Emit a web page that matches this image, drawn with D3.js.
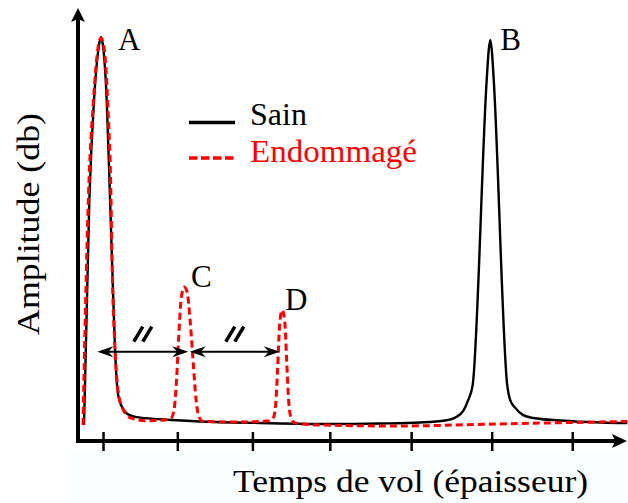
<!DOCTYPE html>
<html>
<head>
<meta charset="utf-8">
<script src="https://cdn.jsdelivr.net/npm/d3@7"></script>
<style>
  html, body { margin: 0; padding: 0; background: #fff; }
  svg { display: block; }
</style>
</head>
<body>
<svg id="chart" width="628" height="503"></svg>
<script>
// ---- data (time of flight, amplitude 0-100) ----
const sainX = [0.757,0.825,0.885,0.949,0.974,1.006,1.047,1.090,1.115,1.154,1.185,1.209,1.243,1.281,1.358,1.435,1.729,2.241,3.008,3.904,4.543,5.055,5.375,5.516,5.606,5.669,5.727,5.906,5.932,5.951,5.971,5.996,6.168,6.207,6.271,6.373,6.501,6.846,7.358,7.703];
const sainY = [3.96,59.7,84.4,98.0,100,96.8,84.4,59.7,44.8,22.5,12.6,10.1,8.4,7.25,6.3,5.9,5.37,4.83,4.46,4.2,4.33,4.58,5.07,5.94,7.43,10.1,13.9,89.4,96.8,99.3,96.8,89.4,13.9,10.1,8.2,6.4,5.69,5.07,4.58,4.46];

const endoX = [0.744,0.812,0.878,0.942,0.974,1.013,1.058,1.102,1.115,1.154,1.196,1.260,1.367,1.559,1.793,1.870,1.908,1.940,1.966,1.998,2.036,2.075,2.113,2.151,2.190,2.228,2.279,2.753,3.111,3.175,3.207,3.232,3.258,3.290,3.322,3.348,3.373,3.405,3.456,3.776,4.799,5.861,6.846,7.703];
const endoY = [3.96,59.7,84.4,98.0,99.75,97.3,84.4,59.7,44.8,22.5,11.9,7.67,5.62,5.02,5.2,5.69,7.67,15.1,25.0,34.9,38.1,36.9,29.95,20.0,10.1,5.94,4.83,4.7,4.95,5.69,8.9,17.6,28.7,32.4,29.95,20.0,10.1,5.69,4.46,3.96,3.71,4.13,4.53,4.83];

const tickValues = [1, 1.95, 2.91, 3.90, 4.94, 5.97, 7];

const peakNames = ["A", "B", "C", "D"];
const peakX = [0.974, 5.951, 2.036, 3.290];
const peakY = [100, 99.3, 38.1, 32.4];

// spacing arrows (from A to C, C to D) at amplitude level
const arrowFrom = [0.927, 2.110];
const arrowTo   = [2.090, 3.260];
const arrowLevel = 22.1;

const seriesNames = ["Sain", "Endommagé"];
const xTitle = "Temps de vol (épaisseur)";
const yTitle = "Amplitude (db)";

const FONT = "Liberation Serif";
const svg = d3.select("#chart");

// ---- scales ----
const x = d3.scaleLinear().domain([0.68, 7.70]).range([78, 627]);
const y = d3.scaleLinear().domain([0, 100]).range([441, 37]);

// very faint background strip under the axis
svg.append("rect").attr("x", 67).attr("y", 453).attr("width", 561).attr("height", 50)
  .attr("fill", "#fbfeff");

const line = d3.line().x(d => x(d[0])).y(d => y(d[1])).curve(d3.curveMonotoneX);

const sain = d3.zip(sainX, sainY);
const endo = d3.zip(endoX, endoY);

// ---- axes ----
const x0 = x.range()[0], x1 = x.range()[1], y0 = y(0);
svg.append("line").attr("x1", x0).attr("x2", x0).attr("y1", y0 + 2).attr("y2", 18)
  .attr("stroke", "#000").attr("stroke-width", 4);
svg.append("path").attr("d", `M${x0},8 L${x0 + 7},22 L${x0},19 L${x0 - 7},22 Z`).attr("fill", "#000");
svg.append("line").attr("x1", x0 - 2).attr("x2", x1 - 10).attr("y1", y0).attr("y2", y0)
  .attr("stroke", "#000").attr("stroke-width", 4);
svg.append("path").attr("d", `M${x1},${y0} L${x1 - 15},${y0 - 7} L${x1 - 12},${y0} L${x1 - 15},${y0 + 7} Z`).attr("fill", "#000");

const xAxis = d3.axisBottom(x).tickValues(tickValues).tickFormat("").tickSize(10);
const gx = svg.append("g").attr("transform", `translate(0,${y0})`).call(xAxis);
gx.select(".domain").remove();
gx.selectAll(".tick line").attr("y1", -9).attr("y2", 10).attr("stroke", "#000").attr("stroke-width", 2.5);

// ---- curves ----
svg.append("path").datum(sain).attr("d", line)
  .attr("fill", "none").attr("stroke", "#000").attr("stroke-width", 2.4).attr("stroke-linejoin", "round");
svg.append("path").datum(endo).attr("d", line)
  .attr("fill", "none").attr("stroke", "#ff0000").attr("stroke-width", 3)
  .attr("stroke-dasharray", "7,4");

// ---- peak labels ----
const labelOff = { A: [17, 13], B: [10, 10], C: [7, 0], D: [3, 0] };
peakNames.forEach((n, i) => {
  svg.append("text").attr("x", x(peakX[i]) + labelOff[n][0]).attr("y", y(peakY[i]) + labelOff[n][1])
    .attr("font-family", FONT).attr("font-size", 31).attr("fill", "#000").text(n);
});

// ---- spacing arrows ----
function arrowHead(tx, ty, dir) {
  const L = 16, W = 5.5, N = 11;
  return `M${tx},${ty} L${tx - dir * L},${ty - W} L${tx - dir * N},${ty} L${tx - dir * L},${ty + W} Z`;
}
arrowFrom.forEach((f, i) => {
  const xa = x(f), xb = x(arrowTo[i]), ya = y(arrowLevel);
  svg.append("line").attr("x1", xa + 4).attr("x2", xb - 4).attr("y1", ya).attr("y2", ya)
    .attr("stroke", "#000").attr("stroke-width", 2);
  svg.append("path").attr("d", arrowHead(xa, ya, -1)).attr("fill", "#000");
  svg.append("path").attr("d", arrowHead(xb, ya, 1)).attr("fill", "#000");
  const cx = (xa + xb) / 2;
  [-4.5, 4.5].forEach(o => {
    svg.append("line")
      .attr("x1", cx + o - 4.5).attr("y1", ya - 10)
      .attr("x2", cx + o + 4.5).attr("y2", ya - 25)
      .attr("stroke", "#000").attr("stroke-width", 3.5);
  });
});

// ---- legend ----
const legend = svg.append("g");
legend.append("line").attr("x1", 189).attr("x2", 235).attr("y1", 122.5).attr("y2", 122.5)
  .attr("stroke", "#000").attr("stroke-width", 3.5);
legend.append("line").attr("x1", 189).attr("x2", 235).attr("y1", 158).attr("y2", 158)
  .attr("stroke", "#ff0000").attr("stroke-width", 3.5).attr("stroke-dasharray", "8.5,3.5");
legend.append("text").attr("x", 250).attr("y", 125).attr("font-family", FONT).attr("font-size", 32)
  .attr("fill", "#000").text(seriesNames[0]);
legend.append("text").attr("x", 250).attr("y", 161.5).attr("font-family", FONT).attr("font-size", 32)
  .attr("textLength", 167).attr("lengthAdjust", "spacingAndGlyphs")
  .attr("fill", "#ff0000").text(seriesNames[1]);

// ---- axis titles ----
svg.append("text").attr("x", 233).attr("y", 492).attr("font-family", FONT).attr("font-size", 32)
  .attr("textLength", 355).attr("lengthAdjust", "spacingAndGlyphs").attr("fill", "#000").text(xTitle);
svg.append("text").attr("transform", "translate(39,224) rotate(-90)").attr("text-anchor", "middle")
  .attr("font-family", FONT).attr("font-size", 32).attr("textLength", 222).attr("lengthAdjust", "spacingAndGlyphs")
  .attr("fill", "#000").text(yTitle);
</script>
</body>
</html>
